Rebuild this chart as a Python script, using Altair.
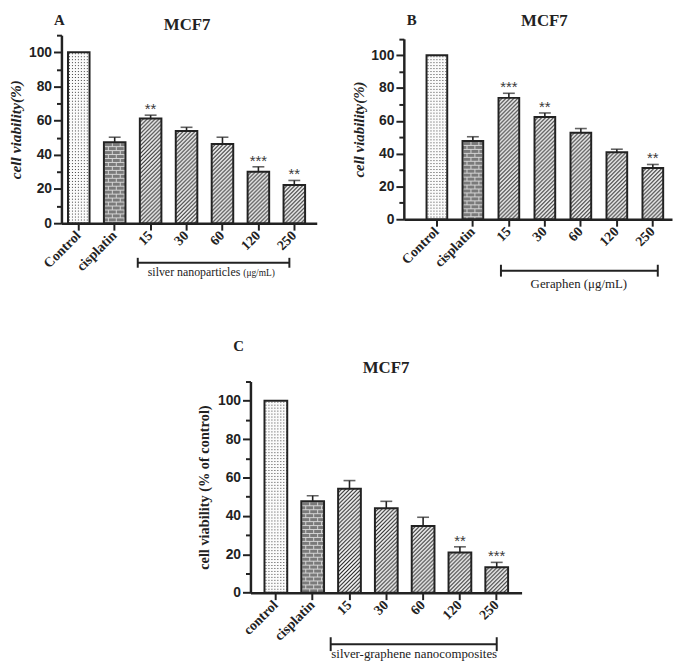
import base64
import altair as alt
import pandas as pd

# ---------------- data ----------------
ab_categories = ["Control", "cisplatin", "15", "30", "60", "120", "250"]
c_categories = ["control", "cisplatin", "15", "30", "60", "120", "250"]

a_mean = [100, 47.4, 61.3, 54.0, 46.3, 30.1, 22.3]
a_sd = [0, 2.9, 1.9, 2.1, 4.0, 2.9, 2.7]
a_sig = ["", "", "**", "", "", "***", "**"]

b_mean = [100, 47.7, 74.0, 62.4, 52.7, 40.8, 31.2]
b_sd = [0, 2.6, 2.8, 2.4, 2.6, 1.9, 2.2]
b_sig = ["", "", "***", "**", "", "", "**"]

c_mean = [100, 47.6, 54.1, 44.0, 34.7, 21.0, 13.2]
c_sd = [0, 2.9, 4.3, 3.6, 4.6, 2.9, 2.6]
c_sig = ["", "", "", "", "", "**", "***"]

panel_letters = ["A", "B", "C"]
panel_titles = ["MCF7", "MCF7", "MCF7"]
y_titles = ["cell viability(%)", "cell viability(%)", "cell viability (% of control)"]
bracket_texts = ["silver nanoparticles", "Geraphen (μg/mL)", "silver-graphene nanocomposites"]
bracket_units = ["(μg/mL)", "", ""]
y_ticks = [0, 10, 20, 30, 40, 50, 60, 70, 80, 90, 100, 110]

# ---------------- styles ----------------
INK = "#222222"
SERIF = "Liberation Serif"
SANS = "Liberation Sans"


def pattern_url(body, w, h):
    svg = (
        '<svg xmlns="http://www.w3.org/2000/svg" width="100%" height="100%">'
        f'<defs><pattern id="p" patternUnits="userSpaceOnUse" width="{w}" height="{h}">{body}</pattern></defs>'
        '<rect x="0" y="0" width="100%" height="100%" fill="url(#p)"/></svg>'
    )
    return "data:image/svg+xml;base64," + base64.b64encode(svg.encode("utf-8")).decode("ascii")


DOTS = pattern_url('<rect width="3" height="3" fill="#fbfbfb"/><rect x="1" y="1" width="1" height="1" fill="#444"/>', 3, 3)
BRICK = pattern_url(
    '<rect width="8" height="8" fill="#7a7a7a"/>'
    '<path d="M0 0.5H8M0 4.5H8M0.5 0V4.5M4.5 4.5V8" stroke="#d4d4d4" stroke-width="1" fill="none"/>', 8, 8)
HATCH = pattern_url(
    '<rect width="4" height="4" fill="#ffffff"/>'
    '<path d="M-1 1L1 -1M0 4L4 0M3 5L5 3" stroke="#1e1e1e" stroke-width="1.15"/>', 4, 4)

geo_a = dict(W=258, H=190, top=0, pi=0.40, po=0.2535, align=0.36, ystyle="italic", ytfs=15.5, tpad=5,
             lx=-2, ly=-15.5, tx=127, ty=-10.5, by=40, bt=5, b0=-13, b1=-5,
             ly_lab=49, lfs=12, lalign="right", ldx=18, udx=21, ufs=9.5)
geo_b = dict(W=271, H=186, top=3.7, pi=0.425, po=0.438, align=0.72, ystyle="italic", ytfs=15, tpad=4,
             lx=8, ly=-15.5, tx=142, ty=-14.5, by=52, bt=6, b0=-8, b1=5,
             ly_lab=65, lfs=13, lalign="center", ldx=-2, udx=0, ufs=9.5)
geo_c = dict(W=274, H=213.4, top=0, pi=0.382, po=0.374, align=0.51, ystyle="normal", ytfs=14.5, tpad=6,
             lx=-12, ly=-35.6, tx=137, ty=-14, by=52, bt=7, b0=-19, b1=0,
             ly_lab=62, lfs=13, lalign="center", ldx=-9, udx=0, ufs=9.5)


def make_panel(cats, mean, sd, sig, letter, title, ytitle, btext, bunit, g):
    df = pd.DataFrame({
        "cat": cats,
        "mean": mean,
        "upper": [m + s for m, s in zip(mean, sd)],
        "sd": sd,
        "sig": sig,
    })
    H = g["H"]
    xs = alt.Scale(domain=cats, paddingInner=g["pi"], paddingOuter=g["po"], align=g["align"])
    ys = alt.Scale(domain=[0, 110], nice=False, zero=True, range=[H, g["top"]])
    x_axis = alt.Axis(labelAngle=-45, labelAlign="right", labelBaseline="middle",
                      labelFont=SERIF, labelFontWeight="bold", labelFontSize=14,
                      tickSize=7, labelPadding=3, labelOverlap=False, grid=False,
                      domainColor=INK, tickColor=INK, labelColor=INK, domainWidth=2.5, tickWidth=2)
    y_axis = alt.Axis(values=y_ticks, labelExpr="datum.value % 20 === 0 ? datum.label : ''",
                      tickSize={"condition": {"test": "datum.value % 20 === 0", "value": 8}, "value": 5},
                      domainColor=INK, tickColor=INK, labelColor=INK, titleColor=INK, grid=False,
                      domainWidth=2.5, tickWidth=2,
                      labelFont=SANS, labelFontWeight="bold", labelFontSize=14, labelPadding=2,
                      titleFont=SERIF, titleFontWeight="bold", titleFontStyle=g["ystyle"],
                      titleFontSize=g["ytfs"], titlePadding=g["tpad"], labelOverlap=False)

    def X(field):
        return alt.X(field, scale=xs, axis=x_axis, title=None)

    def Y(field):
        return alt.Y(field, scale=ys, axis=y_axis, title=ytitle)

    base = alt.Chart(df)
    layers = []
    for names, url in [([cats[0]], DOTS), ([cats[1]], BRICK), (cats[2:], HATCH)]:
        layers.append(
            base.transform_filter(alt.FieldOneOfPredicate(field="cat", oneOf=names))
            .mark_image(url=url, aspect=False)
            .encode(x=X("cat:N"), y=Y("mean:Q"), y2=alt.datum(0))
        )
    layers.append(base.mark_bar(fillOpacity=0, stroke=INK, strokeWidth=2).encode(x=X("cat:N"), y=Y("mean:Q")))
    err = base.transform_filter("datum.sd > 0")
    layers.append(err.mark_rule(color=INK, strokeWidth=1.6).encode(x=X("cat:N"), y=Y("mean:Q"), y2="upper:Q"))
    layers.append(err.mark_tick(color=INK, size=12, thickness=1.6).encode(x=X("cat:N"), y=Y("upper:Q")))
    layers.append(base.mark_text(font=SANS, fontSize=15, color="#3a3a3a", baseline="alphabetic", dy=-1)
                  .encode(x=X("cat:N"), y=Y("upper:Q"), text="sig:N"))

    bdf = pd.DataFrame({"start": [cats[2]], "end": [cats[-1]], "mid": [cats[4]],
                        "label": [btext], "unit": [bunit]})
    bchart = alt.Chart(bdf)
    layers.append(bchart.mark_rule(color=INK, strokeWidth=2, xOffset=g["b0"], x2Offset=g["b1"])
                  .encode(x=X("start:N"), x2="end:N", y=alt.value(H + g["by"])))
    layers.append(bchart.mark_rule(color=INK, strokeWidth=2, xOffset=g["b0"])
                  .encode(x=X("start:N"), y=alt.value(H + g["by"] - g["bt"]), y2=alt.value(H + g["by"] + g["bt"])))
    layers.append(bchart.mark_rule(color=INK, strokeWidth=2, xOffset=g["b1"])
                  .encode(x=X("end:N"), y=alt.value(H + g["by"] - g["bt"]), y2=alt.value(H + g["by"] + g["bt"])))
    layers.append(bchart.mark_text(font=SERIF, fontSize=g["lfs"], color=INK, align=g["lalign"],
                                   baseline="middle", dx=g["ldx"])
                  .encode(x=X("mid:N"), y=alt.value(H + g["ly_lab"]), text="label:N"))
    if bunit:
        layers.append(bchart.mark_text(font=SERIF, fontSize=g["ufs"], color=INK, align="left",
                                       baseline="middle", dx=g["udx"])
                      .encode(x=X("mid:N"), y=alt.value(H + g["ly_lab"] + 1), text="unit:N"))

    tdf = pd.DataFrame({"letter": [letter], "title": [title]})
    tchart = alt.Chart(tdf)
    layers.append(tchart.mark_text(font=SERIF, fontWeight="bold", fontSize=15, color=INK, baseline="middle")
                  .encode(text="letter:N", x=alt.value(g["lx"]), y=alt.value(g["ly"])))
    layers.append(tchart.mark_text(font=SERIF, fontWeight="bold", fontSize=17, color=INK, baseline="middle")
                  .encode(text="title:N", x=alt.value(g["tx"]), y=alt.value(g["ty"])))

    return alt.layer(*layers).properties(width=g["W"], height=H)


panel_a = make_panel(ab_categories, a_mean, a_sd, a_sig, panel_letters[0], panel_titles[0],
                     y_titles[0], bracket_texts[0], bracket_units[0], geo_a)
panel_b = make_panel(ab_categories, b_mean, b_sd, b_sig, panel_letters[1], panel_titles[1],
                     y_titles[1], bracket_texts[1], bracket_units[1], geo_b)
panel_c = make_panel(c_categories, c_mean, c_sd, c_sig, panel_letters[2], panel_titles[2],
                     y_titles[2], bracket_texts[2], bracket_units[2], geo_c)

SPACER_W = 135
spacer = (
    alt.Chart(pd.DataFrame({"s": [0]}))
    .mark_rect(opacity=0)
    .encode(x=alt.value(0), x2=alt.value(SPACER_W), y=alt.value(0), y2=alt.value(1))
    .properties(width=SPACER_W, height=1)
)

top = alt.hconcat(panel_a, panel_b, spacing=34)
bottom = alt.hconcat(spacer, panel_c, spacing=0)

chart = (
    alt.vconcat(top, bottom, spacing=47)
    .properties(padding=0)
    .configure_view(stroke="transparent")
)

chart.save("out.html", embed_options={"renderer": "svg", "actions": False})
